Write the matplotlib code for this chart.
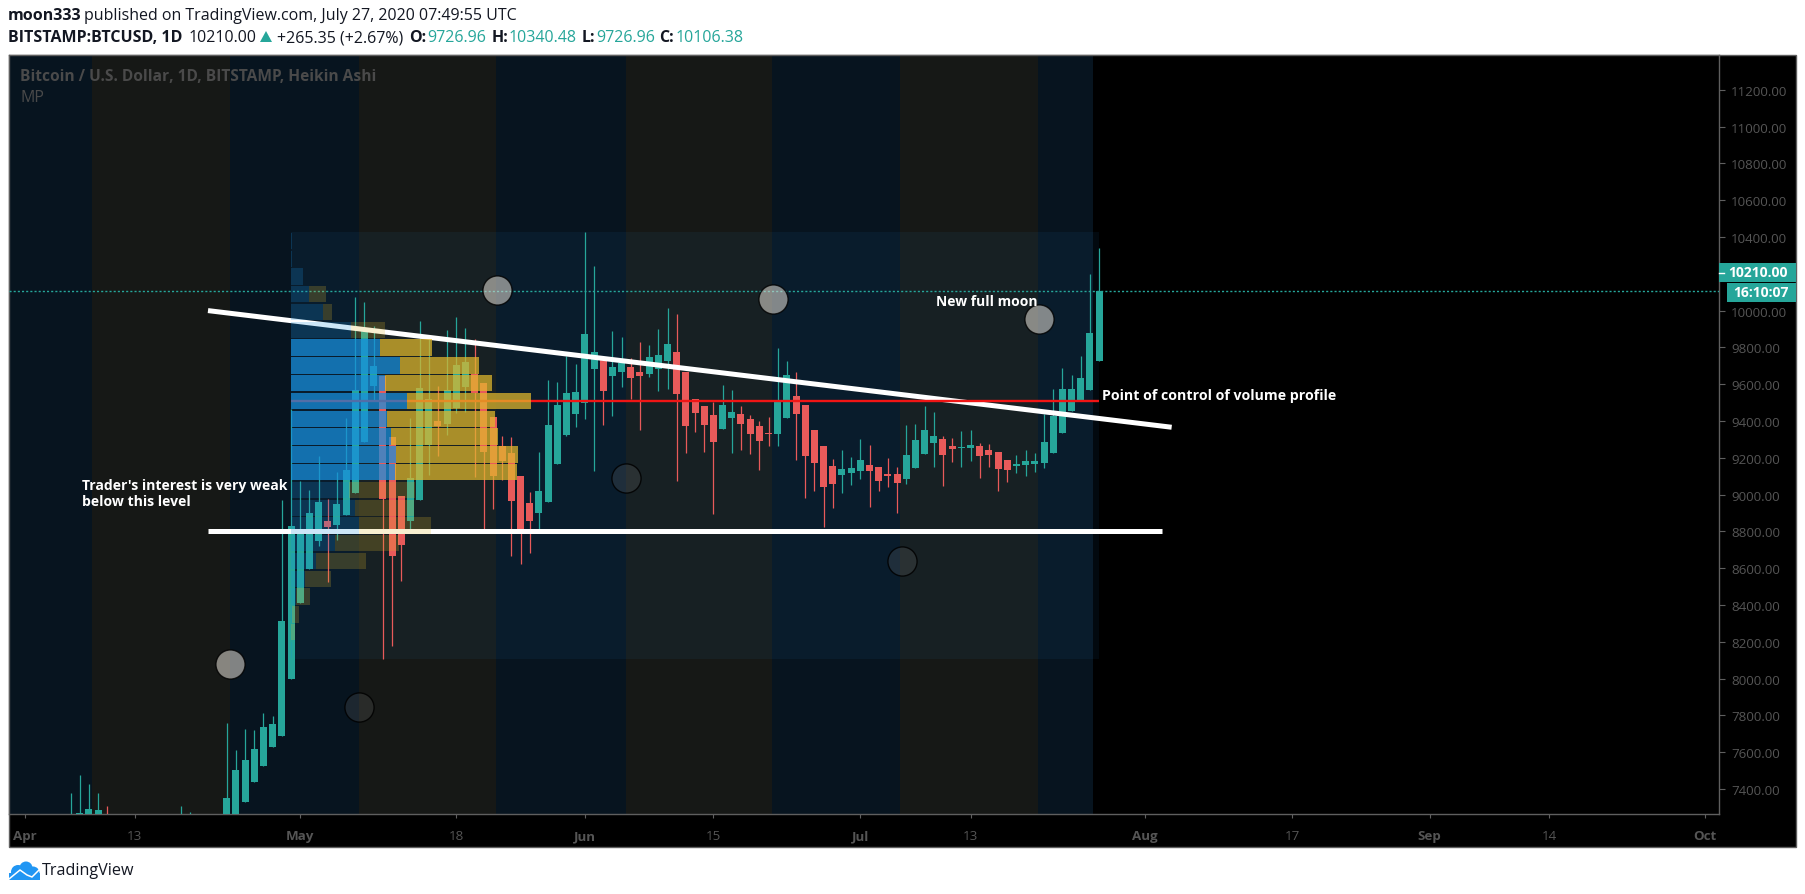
# TradingView BTCUSD daily chart with moon phases and volume profile
import matplotlib
matplotlib.use('Agg')
import matplotlib.pyplot as plt
from matplotlib.patches import Circle, Polygon, Rectangle

W, H = 1805, 895
DPI = 100

# Days are counted from Apr 1
days = list(range(5, 118))
opens = [7150, 7200, 7230, 7240, 7220, 7150, 7120, 7100, 7110, 7120, 7130, 7140,
         7150, 7160, 7170, 7180, 7190, 7150, 7200,
         7329, 7438, 7525, 7628, 7688, 7998, 8411, 8596, 8748, 8857, 8835, 8889, 9009,
         9286, 9590, 9645, 9313, 8992, 8857, 8971, 9270, 9400, 9384, 9471, 9585,
         9655, 9607, 9422, 9264, 9226, 9101, 8954, 8900, 8960, 9166, 9324, 9438,
         9498, 9683, 9737, 9645, 9666, 9694, 9666, 9655, 9683, 9726, 9775, 9666,
         9520, 9482, 9433, 9357, 9416, 9438, 9411, 9373, 9335, 9329, 9416, 9536,
         9487, 9351, 9264, 9156, 9107, 9117, 9128, 9161, 9150, 9112, 9112, 9085,
         9145, 9221, 9280, 9302, 9264, 9253, 9253, 9264, 9242, 9232, 9188, 9156,
         9161, 9167, 9172, 9226, 9335, 9454, 9509, 9569, 9726.96]
closes = [7220, 7270, 7291, 7286, 7200, 7170, 7140, 7130, 7130, 7140, 7150, 7160,
          7170, 7180, 7190, 7200, 7210, 7351, 7503,
          7558, 7617, 7737, 7753, 8313, 8829, 8813, 8900, 8960, 8824, 8949, 9134, 9569,
          9889, 9699, 8976, 8666, 8726, 9090, 9579, 9520, 9373, 9569, 9704, 9721,
          9552, 9232, 9101, 9183, 8965, 8813, 8857, 9020, 9378, 9487, 9552, 9558,
          9873, 9775, 9563, 9694, 9715, 9634, 9645, 9748, 9759, 9818, 9547, 9373,
          9444, 9378, 9286, 9487, 9449, 9384, 9329, 9291, 9329, 9503, 9650, 9438,
          9210, 9172, 9041, 9058, 9139, 9145, 9188, 9128, 9074, 9101, 9063, 9215,
          9297, 9351, 9318, 9215, 9248, 9259, 9270, 9210, 9215, 9139, 9134, 9167,
          9183, 9183, 9286, 9427, 9574, 9574, 9634, 9878, 10106.38]
highs = [7378, 7476, 7427, 7378, 7308, 7200, 7180, 7170, 7170, 7180, 7190, 7200,
         7308, 7275, 7220, 7230, 7240, 7759, 7612,
         7726, 7721, 7813, 7797, 8971, 9465, 9074, 9025, 9210, 8976, 9123, 9416, 10074,
         10047, 9916, 9645, 9313, 8992, 9416, 9944, 9846, 9590, 9895, 9965, 9906,
         9846, 9607, 9422, 9318, 9313, 9101, 9014, 9232, 9623, 9612, 9753, 9710,
         10427, 10243, 9737, 9889, 9857, 9742, 9829, 9813, 9900, 10014, 9982, 9666,
         9520, 9482, 9503, 9596, 9569, 9482, 9433, 9400, 9422, 9797, 9726, 9666,
         9487, 9351, 9264, 9194, 9242, 9204, 9302, 9270, 9150, 9199, 9150, 9378,
         9384, 9482, 9449, 9318, 9308, 9346, 9351, 9280, 9275, 9232, 9188, 9215,
         9242, 9226, 9438, 9574, 9688, 9650, 9753, 10199, 10340.48]
lows = [7050, 7060, 7100, 7100, 7150, 7050, 7050, 7050, 7050, 7050, 7050, 7050,
        7050, 7050, 7050, 7050, 7050, 7050, 7100,
        7329, 7438, 7525, 7628, 7688, 7998, 8411, 8596, 8721, 8525, 8753, 8889, 9009,
        9286, 9514, 8107, 8177, 8530, 8797, 8971, 9107, 9210, 9324, 9444, 9449,
        9096, 8813, 8922, 9079, 8666, 8623, 8683, 8813, 8960, 9166, 9318, 9367,
        9411, 9128, 9378, 9427, 9585, 9520, 9351, 9639, 9563, 9574, 9074, 9226,
        9340, 9232, 8895, 9357, 9226, 9242, 9221, 9134, 9264, 9264, 9416, 9188,
        8982, 9020, 8824, 8927, 9009, 9052, 9085, 8933, 9020, 9041, 8900, 9058,
        9145, 9221, 9150, 9047, 9177, 9150, 9183, 9090, 9150, 9020, 9069, 9117,
        9101, 9123, 9145, 9226, 9335, 9454, 9509, 9569, 9726.96]
assert len(days) == len(opens) == len(closes) == len(highs) == len(lows)

# Moon phases: band edges in days, then circles
band_edges = [-1.8, 7.33, 22.35, 36.4, 51.3, 65.45, 81.4, 95.3, 110.35, 116.3]
full_moon_days = [22.4, 51.4, 81.5, 110.5]
full_moon_prices = [8081, 10112, 10065, 9956]
new_moon_days = [36.4, 65.5, 95.5]
new_moon_prices = [7846, 9092, 8641]

# Volume profile rows from the top of the range to the bottom
vp_top, vp_bottom = 10427, 8107
vp_up = [1, 1, 12, 18, 32, 60, 89, 109, 94, 116, 96, 100, 105, 104,
         58, 64, 68, 44, 25, 14, 5, 1, 0, 1]
vp_total = [1, 1, 12, 35, 41, 94, 141, 188, 201, 240, 204, 207, 227, 226,
            124, 123, 140, 108, 75, 40, 19, 8, 4, 1]
vp_value_area = range(6, 14)
vp_left = 29.0
poc_price = 9509
last_price = 10106.38

# Drawn lines
trend_days = [19.96, 124.9]
trend_prices = [10000, 9366]
support_days = [19.96, 123.85]
support_prices = [8800, 8800]

price_ticks = list(range(7400, 11400, 200))
date_ticks = [0, 12, 30, 47, 61, 75, 91, 103, 122, 138, 153, 166, 183]
date_labels = ['Apr', '13', 'May', '18', 'Jun', '15', 'Jul', '13', 'Aug', '17', 'Sep', '14', 'Oct']
month_labels = ['Apr', 'May', 'Jun', 'Jul', 'Aug', 'Sep', 'Oct']

GREEN = '#26a69a'
RED = '#e85a5a'
FRAME = '#5f5f5f'
TICK_TEXT = '#555555'
UI_FONT = ['Open Sans', 'DejaVu Sans']

fig = plt.figure(figsize=(W / DPI, H / DPI), dpi=DPI, facecolor='white')

# Main axes placed by pixels
left, right, top, bottom = 8.5, 1719, 55.5, 815
ax = fig.add_axes([left / W, 1 - bottom / H, (right - left) / W, (bottom - top) / H], facecolor='black')
px_per_day = 9.183
px_per_usd = 0.184
ax.set_xlim((left - 24.7) / px_per_day, (right - 24.7) / px_per_day)
ax.set_ylim(7400 - (bottom - 790) / px_per_usd, 7400 + (790 - top) / px_per_usd)

# Moon bands
for i in range(len(band_edges) - 1):
    color = '#07141f' if i % 2 == 0 else '#161816'
    ax.axvspan(band_edges[i], band_edges[i + 1], color=color, lw=0, zorder=1)

# Candles
bar_w = 7 / px_per_day
for d, o, h, l, c in zip(days, opens, highs, lows, closes):
    color = GREEN if c >= o else RED
    ax.plot([d, d], [l, h], color=color, lw=0.9, solid_capstyle='butt', zorder=3)
    ax.bar(d, max(abs(c - o), 6), bottom=min(o, c), width=bar_w, color=color, lw=0, zorder=3)

ax.axhline(last_price, color=GREEN, lw=1, ls=(0, (1.5, 1.5)), zorder=3.5)

# Hand drawn lines and point of control, all under the profile
ax.plot(trend_days, trend_prices, color='white', lw=3.6, solid_capstyle='butt', zorder=4)
ax.plot(support_days, support_prices, color='white', lw=3.6, solid_capstyle='butt', zorder=4)
ax.plot([vp_left, days[-1]], [poc_price, poc_price], color='#f01515', lw=1.7,
        solid_capstyle='butt', zorder=4)

# Volume profile range box and rows
ax.add_patch(Rectangle((vp_left, vp_bottom), days[-1] - vp_left, vp_top - vp_bottom,
                       facecolor=(40 / 255, 140 / 255, 220 / 255, 0.07), lw=0, zorder=2))
row_h = (vp_top - vp_bottom) / len(vp_up)
for i, (up, total) in enumerate(zip(vp_up, vp_total)):
    alpha = 0.73 if i in vp_value_area else 0.22
    y = vp_top - (i + 0.5) * row_h
    ax.barh(y, up / px_per_day, height=row_h * 0.92, left=vp_left, color='#1790df', alpha=alpha, lw=0, zorder=5)
    ax.barh(y, (total - up) / px_per_day, height=row_h * 0.92, left=vp_left + up / px_per_day,
            color='#e1b82c', alpha=alpha, lw=0, zorder=5)

# Moons
ax.scatter(full_moon_days, full_moon_prices, s=440, facecolor=(0.90, 0.88, 0.84, 0.55),
           edgecolor=(0, 0, 0, 0.8), lw=1, zorder=6)
ax.scatter(new_moon_days, new_moon_prices, s=440, facecolor=(0.47, 0.47, 0.47, 0.2),
           edgecolor=(0, 0, 0, 0.85), lw=1, zorder=6)

# Axis ticks, the 10200 label sits behind the price tag
ax.yaxis.tick_right()
ax.set_yticks(price_ticks)
ax.set_yticklabels(['' if p == 10200 else '%.2f' % p for p in price_ticks],
                   fontsize=9.6, color=TICK_TEXT, family=UI_FONT)
ax.set_xticks(date_ticks)
ax.set_xticklabels(date_labels, fontsize=9.6, color=TICK_TEXT, family=UI_FONT)
for lab in ax.get_xticklabels():
    if lab.get_text() in month_labels:
        lab.set_fontweight('bold')
ax.tick_params(axis='y', length=4.3, width=0.8, color=FRAME, pad=4.5)
ax.tick_params(axis='x', length=3, width=0.8, color=FRAME, pad=8)
for s in ax.spines.values():
    s.set_color(FRAME)
    s.set_linewidth(1)

# Overlay in pixel coordinates for the chrome around the chart
ov = fig.add_axes([0, 0, 1, 1], facecolor='none', zorder=-1)
ov.set_xlim(0, W)
ov.set_ylim(H, 0)
ov.axis('off')
ov.add_patch(Rectangle((8.5, 55.5), 1787.5, 792.5, facecolor='black', edgecolor=FRAME, lw=1))

top_ov = fig.add_axes([0, 0, 1, 1], facecolor='none', zorder=5)
top_ov.set_xlim(0, W)
top_ov.set_ylim(H, 0)
top_ov.axis('off')

def label(x, y, text, size=11.5, color='#131722', weight='normal', family=UI_FONT, ha='left'):
    top_ov.text(x, y, text, fontsize=size, color=color, fontweight=weight, family=family, ha=ha, va='center')

# Header lines
label(8, 16, 'moon333', weight='bold')
label(84, 16, 'published on TradingView.com, July 27, 2020 07:49:55 UTC')
label(8, 38, 'BITSTAMP:BTCUSD, 1D', weight='bold')
label(189, 38, '10210.00')
top_ov.add_patch(Polygon([[260, 43], [272, 43], [266, 32]], facecolor=GREEN, lw=0))
label(277, 38, '+265.35 (+2.67%)')
for x, name in [(409, 'O:'), (492, 'H:'), (582, 'L:'), (659, 'C:')]:
    label(x, 38, name, weight='bold')
for x, val in [(427, '9726.96'), (509, '10340.48'), (596, '9726.96'), (676, '10106.38')]:
    label(x, 38, val, color=GREEN)

# Overlay title on the chart
label(20, 77, 'Bitcoin / U.S. Dollar, 1D, BITSTAMP, Heikin Ashi', size=11.2, color='#4a4a4a', weight='bold')
label(20, 98, 'MP', size=11.5, color='#4a4a4a')

# Annotations
label(82, 486, "Trader's interest is very weak", size=10.1, color='white', weight='bold')
label(82, 502, 'below this level', size=10.1, color='white', weight='bold')
label(936, 302, 'New full moon', size=10, color='white', weight='bold')
label(1102, 396, 'Point of control of volume profile', size=10.2, color='white', weight='bold')

# Last price and countdown tags
top_ov.add_patch(Rectangle((1719, 264), 77, 19, facecolor=GREEN, lw=0))
top_ov.plot([1719, 1724], [273.5, 273.5], color='white', lw=1)
label(1757.5, 273, '10210.00', size=10, color='white', weight='bold', ha='center')
top_ov.add_patch(Rectangle((1727, 284), 69, 19, facecolor=GREEN, lw=0))
label(1761, 293, '16:10:07', size=10, color='white', weight='bold', ha='center')

# Logo
logo = '#2196f3'
for cx, cy, r in [(18, 873, 7), (26, 869, 6.5), (33, 874, 6.5)]:
    top_ov.add_patch(Circle((cx, cy), r, facecolor=logo, lw=0))
top_ov.add_patch(Rectangle((9, 874), 31, 7, facecolor=logo, lw=0))
top_ov.plot([9, 20, 27, 32, 40], [880, 871, 876, 878, 870], color='white', lw=1.1)
label(42, 871, 'TradingView', size=11.6)

fig.savefig('out.png', dpi=DPI, facecolor='white')
